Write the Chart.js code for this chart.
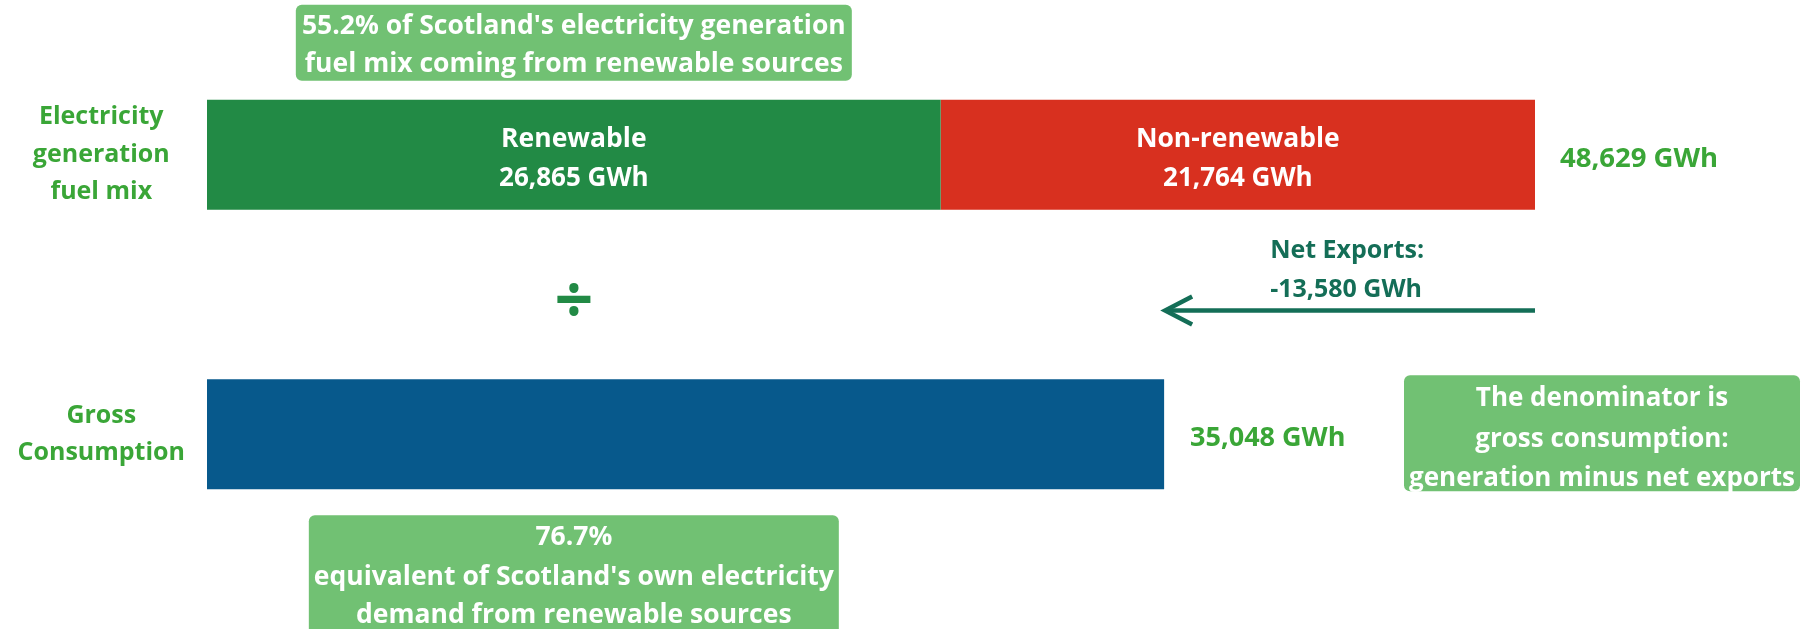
<!DOCTYPE html>
<html><head><meta charset="utf-8">
<script src="https://cdn.jsdelivr.net/npm/chart.js@4.4.1/dist/chart.umd.min.js"></script>
<style>html,body{margin:0;padding:0;background:#fff;overflow:hidden}canvas{display:block}</style>
</head><body>
<canvas id="c" width="1801" height="629"></canvas>
<script>
// ---- data ----
const categories = [["Electricity", "generation", "fuel mix"], ["Gross", "Consumption"]];
const seriesNames = ["Renewable", "Non-renewable", "Gross Consumption"];
const renewable = [26865, null];
const nonRenewable = [21764, null];
const grossConsumption = [null, 35048];
const netExports = [-13580];
const unit = "GWh";
const calloutTop = ["55.2% of Scotland's electricity generation", "fuel mix coming from renewable sources"];
const calloutBottom = ["76.7%", "equivalent of Scotland's own electricity", "demand from renewable sources"];
const calloutRight = ["The denominator is", "gross consumption:", "generation minus net exports"];
const netExportsLabel = ["Net Exports:"];

// ---- styles ----
const COL = { green: '#228a45', red: '#d8301f', blue: '#07598c', label: '#3aa637', box: '#71c173', teal: '#146e57', div: '#228a45' };
const FONT = '"Open Sans", sans-serif';
const fmt = v => Number(v).toLocaleString('en-US');

function txt(ctx, s, x, y, size, color, align) {
  ctx.save();
  ctx.font = 'bold ' + size + 'px ' + FONT;
  ctx.fillStyle = color;
  ctx.textAlign = align || 'center';
  ctx.textBaseline = 'middle';
  ctx.fillText(s, x, y);
  ctx.restore();
}
function box(ctx, x0, y0, x1, y1, r, color) {
  ctx.save();
  ctx.fillStyle = color;
  ctx.beginPath();
  ctx.roundRect(x0, y0, x1 - x0, y1 - y0, r);
  ctx.fill();
  ctx.restore();
}

const annotations = {
  id: 'annotations',
  afterDatasetsDraw(chart) {
    const { ctx, scales: { x, y } } = chart;
    const segs = [chart.getDatasetMeta(0).data[0], chart.getDatasetMeta(1).data[0]];
    const cons = chart.getDatasetMeta(2).data[1];
    const vals = [renewable[0], nonRenewable[0]];
    // labels inside the segments
    segs.forEach((el, i) => {
      const cx = (el.x + el.base) / 2;
      txt(ctx, seriesNames[i], cx, el.y - 15, 26.5, '#ffffff');
      txt(ctx, fmt(vals[i]) + ' ' + unit, cx, el.y + 24, 26, '#ffffff');
    });
    const total = renewable[0] + nonRenewable[0];
    const xTot = x.getPixelForValue(total);
    const y0 = y.getPixelForValue(0), y1 = y.getPixelForValue(1);
    txt(ctx, fmt(total) + ' ' + unit, xTot + 25, y0 + 4, 27.5, COL.label, 'left');
    const xCons = x.getPixelForValue(grossConsumption[1]);
    txt(ctx, fmt(grossConsumption[1]) + ' ' + unit, xCons + 26, y1 + 4, 27, COL.label, 'left');

    // divide sign
    const gx = (segs[0].x + segs[0].base) / 2;
    const midY = (y0 + y1) / 2;
    txt(ctx, '\u00F7', gx, midY + 9, 68, COL.div);

    // net exports arrow
    const ay = midY + 16;
    const xEnd = x.getPixelForValue(total + netExports[0]);
    ctx.save();
    ctx.strokeStyle = COL.teal;
    ctx.lineWidth = 4.5;
    ctx.beginPath(); ctx.moveTo(xTot, ay); ctx.lineTo(xEnd + 2, ay); ctx.stroke();
    ctx.lineJoin = 'miter';
    ctx.beginPath(); ctx.moveTo(xEnd + 28, ay - 14); ctx.lineTo(xEnd + 1, ay); ctx.lineTo(xEnd + 28, ay + 14); ctx.stroke();
    ctx.restore();
    txt(ctx, netExportsLabel[0], xEnd + 106, ay - 60, 25, COL.teal, 'left');
    txt(ctx, fmt(netExports[0]) + ' ' + unit, xEnd + 106, ay - 21, 25, COL.teal, 'left');

    // callouts
    const barTop = segs[0].y - segs[0].height / 2;
    box(ctx, gx - 278, barTop - 95, gx + 278, barTop - 19, 6, COL.box);
    txt(ctx, calloutTop[0], gx, barTop - 73, 26.5, '#ffffff');
    txt(ctx, calloutTop[1], gx, barTop - 35, 26.5, '#ffffff');

    const consBot = cons.y + cons.height / 2;
    box(ctx, gx - 265, consBot + 26, gx + 265, consBot + 160, 6, COL.box);
    txt(ctx, calloutBottom[0], gx, consBot + 48, 26.5, '#ffffff');
    txt(ctx, calloutBottom[1], gx, consBot + 88, 26.5, '#ffffff');
    txt(ctx, calloutBottom[2], gx, consBot + 126, 26.5, '#ffffff');

    const W = chart.width;
    const consTop = cons.y - cons.height / 2;
    box(ctx, W - 397, consTop - 4, W - 1, consTop + 112, 6, COL.box);
    const rc = W - 199;
    txt(ctx, calloutRight[0], rc, consTop + 19, 26, '#ffffff');
    txt(ctx, calloutRight[1], rc, consTop + 60, 26, '#ffffff');
    txt(ctx, calloutRight[2], rc, consTop + 99, 26, '#ffffff');
  }
};

new Chart(document.getElementById('c'), {
  type: 'bar',
  data: {
    labels: categories,
    datasets: [
      { label: seriesNames[0], data: renewable, backgroundColor: COL.green },
      { label: seriesNames[1], data: nonRenewable, backgroundColor: COL.red },
      { label: seriesNames[2], data: grossConsumption, backgroundColor: COL.blue }
    ]
  },
  options: {
    indexAxis: 'y',
    responsive: false,
    animation: false,
    devicePixelRatio: 1,
    layout: { padding: { left: 0, right: 266, top: 15, bottom: 55 } },
    datasets: { bar: { barPercentage: 1, categoryPercentage: 0.394, borderWidth: 0 } },
    plugins: { legend: { display: false }, tooltip: { enabled: false }, title: { display: false } },
    scales: {
      x: { stacked: true, display: false, min: 0, max: renewable[0] + nonRenewable[0] },
      y: {
        stacked: true,
        grid: { display: false, drawTicks: false },
        border: { display: false },
        afterFit(scale) { scale.width = 207; scale.paddingTop = 0; scale.paddingBottom = 0; },
        ticks: {
          crossAlign: 'center',
          padding: 22,
          color: COL.label,
          font: { family: FONT, size: 25, weight: 'bold', lineHeight: 1.5 }
        }
      }
    }
  },
  plugins: [annotations]
});
</script>
</body></html>
